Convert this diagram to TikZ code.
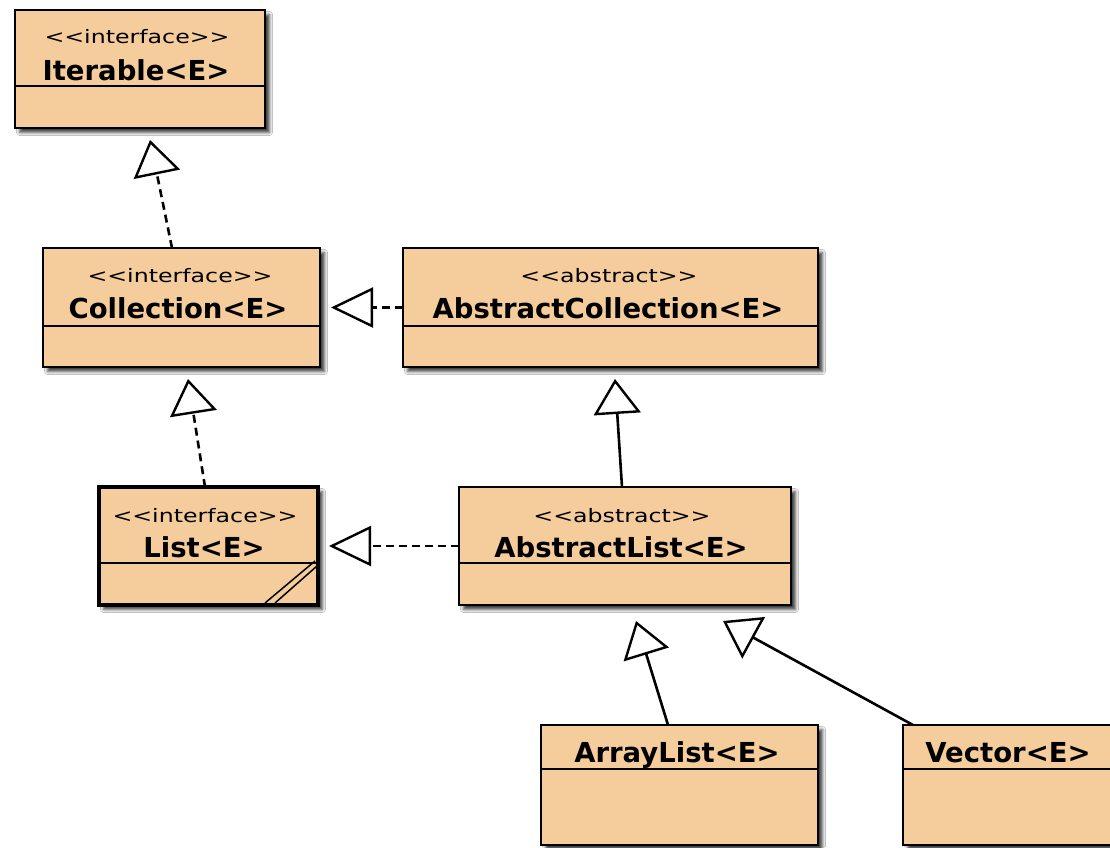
\documentclass[tikz,border=0pt]{standalone}
\usepackage{fontspec}
\setmainfont{DejaVu Sans}[Ligatures=TeXOff]
\newfontfamily\stereofont{DejaVu Sans}[FakeStretch=1.28,Ligatures=TeXOff]
\usetikzlibrary{arrows.meta,shadows.blur}
\definecolor{boxfill}{RGB}{245,204,155}
\begin{document}
\begin{tikzpicture}[x=1pt,y=-1pt,
  cls/.style={draw=black, line width=2.4pt, fill=boxfill, anchor=north west,
    inner sep=0pt, outer sep=0pt,
    blur shadow={shadow xshift=4.5pt, shadow yshift=-4.5pt, shadow blur steps=5, shadow blur radius=3pt, shadow opacity=75}},
  thickcls/.style={cls, line width=4.8pt},
  divline/.style={line width=2pt},
  stereo/.style={anchor=base, inner sep=0pt, font=\stereofont\fontsize{18.5}{20}\selectfont},
  ctitle/.style={anchor=base, inner sep=0pt, font=\bfseries\fontsize{27.5}{30}\selectfont},
  vtip/.style={-{Triangle[open, length=35pt, width=47pt, line width=2.4pt]}},
  htip/.style={-{Triangle[open, length=42pt, width=40pt, line width=2.4pt]}},
  dep/.style={line width=2.6pt, dash pattern=on 8pt off 5pt},
  gen/.style={line width=2.6pt},
  hatch/.style={line width=1.5pt}
]
\fill[white] (0,0) rectangle (1110,847);
\useasboundingbox (0,0) rectangle (1110,847);

% classes
\node[cls, minimum width=250pt, minimum height=118pt] (iter) at (15,10) {};
\draw[divline] (15,86) -- (265,86);
\node[stereo] (iterS) at (137,43) {<<interface>>};
\node[ctitle] (iterT) at (136,80) {Iterable<E>};

\node[cls, minimum width=277pt, minimum height=119pt] (coll) at (43,248) {};
\draw[divline] (43,326) -- (320,326);
\node[stereo] (collS) at (180,282) {<<interface>>};
\node[ctitle] (collT) at (178,318) {Collection<E>};

\node[cls, minimum width=415pt, minimum height=119pt] (acoll) at (403,248) {};
\draw[divline] (403,326) -- (818,326);
\node[stereo] (acollS) at (609,282) {<<abstract>>};
\node[ctitle] (acollT) at (608,318) {AbstractCollection<E>};

\node[thickcls, minimum width=219pt, minimum height=118pt] (list) at (99,487) {};
\draw[divline] (99,563) -- (318,563);
\draw[hatch] (265,603) -- (315,561);
\draw[hatch] (275,603) -- (317,566);
\node[stereo] (listS) at (205,522) {<<interface>>};
\node[ctitle] (listT) at (204,557) {List<E>};

\node[cls, minimum width=332pt, minimum height=118pt] (alist) at (459,487) {};
\draw[divline] (459,563) -- (791,563);
\node[stereo] (alistS) at (622,522) {<<abstract>>};
\node[ctitle] (alistT) at (621,557) {AbstractList<E>};

\node[cls, minimum width=277pt, minimum height=120pt] (arr) at (541,725) {};
\draw[divline] (541,769) -- (818,769);
\node[ctitle] (arrT) at (677,762) {ArrayList<E>};

\node[cls, minimum width=214pt, minimum height=120pt] (vec) at (903,725) {};
\draw[divline] (903,769) -- (1117,769);
\node[ctitle] (vecT) at (1008,762) {Vector<E>};

% connectors
\draw[dep, vtip] ([xshift=-9.5pt]coll.north) -- ([xshift=10pt,yshift=-12pt]iter.south);
\draw[dep, vtip] ([xshift=-3.5pt]list.north) -- ([xshift=6.5pt,yshift=-12pt]coll.south);
\draw[dep, htip] (acoll.west) -- ([xshift=11pt]coll.east);
\draw[dep, htip] (alist.west) -- ([xshift=11pt]list.east);
\draw[gen, vtip] ([xshift=-3pt]alist.north) -- ([xshift=4.5pt,yshift=-12pt]acoll.south);
\draw[gen, vtip] ([xshift=-11.5pt]arr.north) -- ([xshift=11pt,yshift=-16pt]alist.south);
\draw[gen, vtip] ([xshift=10pt]vec.north west) -- ([xshift=98pt,yshift=-16pt]alist.south);
\end{tikzpicture}
\end{document}
